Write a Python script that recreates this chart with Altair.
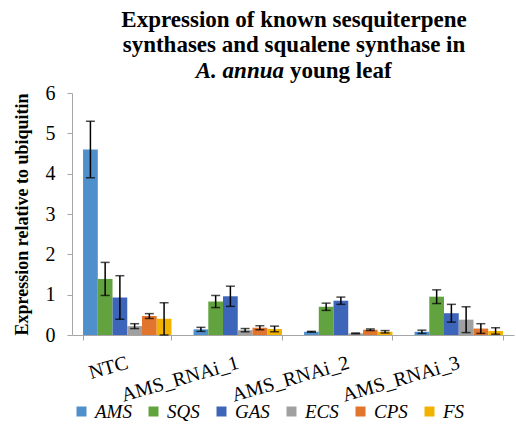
import altair as alt
import pandas as pd

samples = ["NTC", "AMS_RNAi_1", "AMS_RNAi_2", "AMS_RNAi_3"]
genes = ["AMS", "SQS", "GAS", "ECS", "CPS", "FS"]
colors = ["#4F8FCB", "#63A33F", "#3D66BA", "#A0A0A0", "#E2752E", "#F2B300"]

means = {
    "AMS": [4.60, 0.14, 0.08, 0.08],
    "SQS": [1.39, 0.83, 0.70, 0.95],
    "GAS": [0.93, 0.96, 0.85, 0.54],
    "ECS": [0.22, 0.12, 0.04, 0.38],
    "CPS": [0.47, 0.18, 0.13, 0.16],
    "FS":  [0.40, 0.15, 0.08, 0.10],
}
errs = {
    "AMS": [0.70, 0.05, 0.01, 0.04],
    "SQS": [0.41, 0.15, 0.09, 0.17],
    "GAS": [0.54, 0.25, 0.09, 0.22],
    "ECS": [0.06, 0.04, 0.01, 0.32],
    "CPS": [0.06, 0.05, 0.02, 0.12],
    "FS":  [0.40, 0.07, 0.03, 0.08],
}

rows = []
for g in genes:
    for i, s in enumerate(samples):
        m = means[g][i]
        e = errs[g][i]
        rows.append({"sample": s, "gene": g, "value": m,
                     "lo": max(m - e, 0), "hi": m + e})
df = pd.DataFrame(rows)

SERIF = "Liberation Serif"

x = alt.X("sample:N", sort=samples, title=None,
          scale=alt.Scale(paddingInner=0.2, paddingOuter=0.1),
          axis=alt.Axis(labelAngle=-16, labelAlign="right", labelBaseline="middle",
                        labelFont=SERIF, labelFontSize=20, labelColor="black",
                        labelPadding=22, tickBand="extent", tickSize=5,
                        domainColor="#A6A6A6", tickColor="#A6A6A6"))
xo = alt.XOffset("gene:N", sort=genes,
                 scale=alt.Scale(paddingInner=0, paddingOuter=0))

base = alt.Chart(df)

bars = base.mark_bar().encode(
    x=x,
    xOffset=xo,
    y=alt.Y("value:Q", scale=alt.Scale(domain=[0, 6], nice=False),
            axis=alt.Axis(values=[0, 1, 2, 3, 4, 5, 6], grid=False,
                          title="Expression relative to ubiquitin",
                          titleFont=SERIF, titleFontSize=18, titleFontWeight="bold",
                          titleColor="black", titlePadding=14,
                          labelFont=SERIF, labelFontSize=20, labelColor="black",
                          labelPadding=12, tickSize=5,
                          domainColor="#A6A6A6", tickColor="#A6A6A6")),
    color=alt.Color("gene:N", sort=genes,
                    scale=alt.Scale(domain=genes, range=colors),
                    legend=alt.Legend(orient="none", direction="horizontal",
                                      legendX=0, legendY=309, title=None,
                                      columns=6, gridAlign="none",
                                      symbolType="square", symbolSize=100,
                                      symbolStrokeWidth=0, labelFont=SERIF,
                                      labelFontSize=19, labelFontStyle="italic",
                                      labelColor="black", labelOffset=4,
                                      columnPadding=12)),
)

rules = base.mark_rule(color="black", strokeWidth=1.5).encode(
    x=x, xOffset=xo, y="lo:Q", y2="hi:Q")
cap_hi = base.mark_tick(color="black", thickness=1.5, size=9).encode(
    x=x, xOffset=xo, y="hi:Q")
cap_lo = base.mark_tick(color="black", thickness=1.5, size=9).encode(
    x=x, xOffset=xo, y="lo:Q")

tbase = alt.Chart(pd.DataFrame({"t": [0]}))
line1 = tbase.mark_text(text="Expression of known sesquiterpene", font=SERIF,
                        fontSize=23, fontWeight="bold", align="center",
                        baseline="alphabetic", color="black").encode(
    x=alt.value(222), y=alt.value(-66))
line2 = tbase.mark_text(text="synthases and squalene synthase in", font=SERIF,
                        fontSize=23, fontWeight="bold", align="center",
                        baseline="alphabetic", color="black").encode(
    x=alt.value(222), y=alt.value(-41))
line3a = tbase.mark_text(text="A. annua", font=SERIF, fontSize=23,
                         fontWeight="bold", fontStyle="italic", align="right",
                         baseline="alphabetic", color="black").encode(
    x=alt.value(212), y=alt.value(-15))
line3b = tbase.mark_text(text="young leaf", font=SERIF, fontSize=23,
                         fontWeight="bold", align="left",
                         baseline="alphabetic", color="black").encode(
    x=alt.value(218), y=alt.value(-15))

chart = alt.layer(bars, rules, cap_hi, cap_lo, line1, line2, line3a, line3b).properties(
    width=442, height=242,
    autosize=alt.AutoSizeParams(type="none"),
    padding={"left": 72, "top": 93, "right": 2, "bottom": 99},
).configure_view(stroke=None)

chart.save("out.html", embed_options={"renderer": "svg", "actions": False})
